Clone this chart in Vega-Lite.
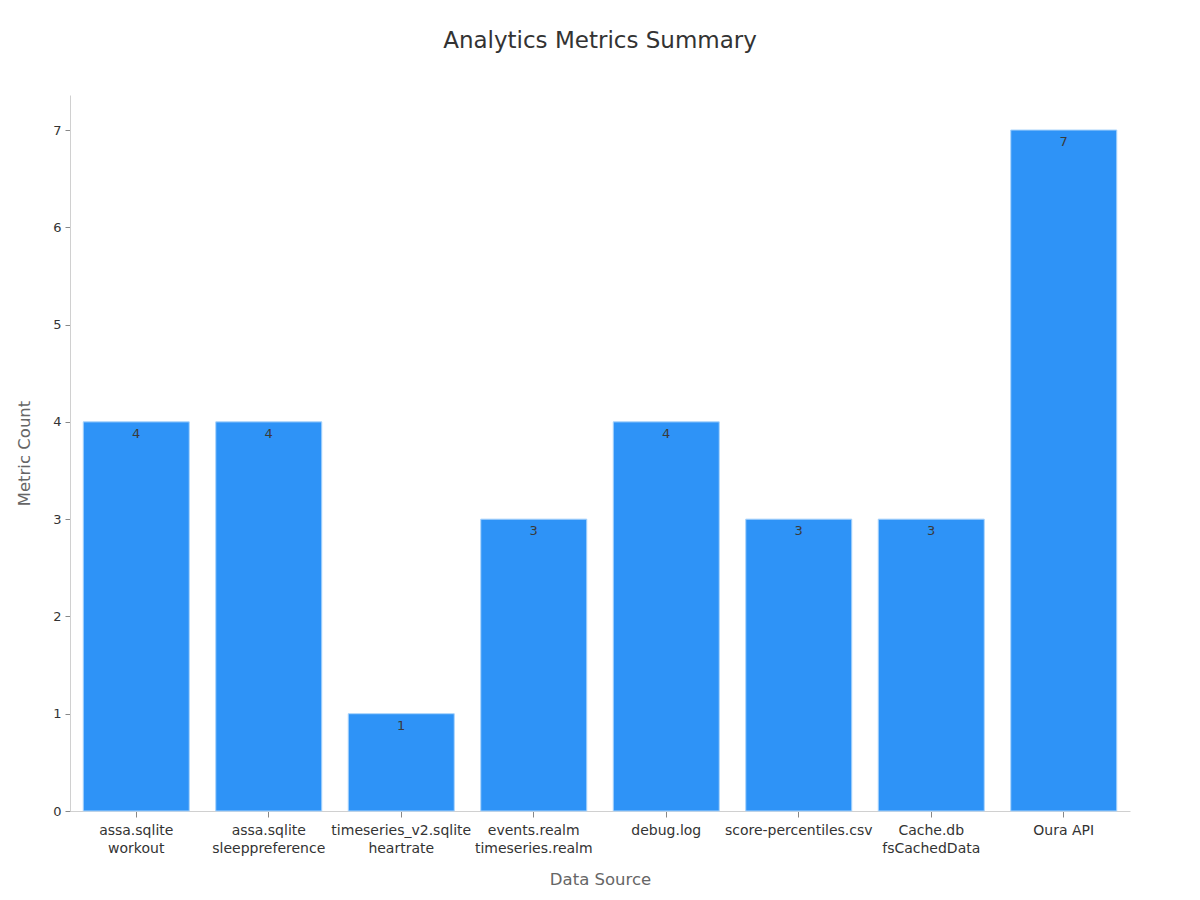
{
  "$schema": "https://vega.github.io/schema/vega-lite/v6.json",
  "width": 1060,
  "height": 716,
  "autosize": {"type": "none"},
  "padding": {"left": 70, "top": 95, "right": 70, "bottom": 89},
  "background": "#ffffff",
  "config": {
    "font": "DejaVu Sans",
    "view": {"stroke": null},
    "axis": {"grid": false, "domainColor": "#d0d0d0", "tickColor": "#888888", "labelColor": "#333333", "labelFontSize": 13, "titleColor": "#666666", "titleFontSize": 16.5, "titleFontWeight": "normal"}
  },
  "title": {"text": "Analytics Metrics Summary", "fontSize": 23, "fontWeight": "normal", "color": "#333333", "offset": 42},
  "data": {
    "values": [
      {"source": "assa.sqlite\nworkout", "count": 4},
      {"source": "assa.sqlite\nsleeppreference", "count": 4},
      {"source": "timeseries_v2.sqlite\nheartrate", "count": 1},
      {"source": "events.realm\ntimeseries.realm", "count": 3},
      {"source": "debug.log", "count": 4},
      {"source": "score-percentiles.csv", "count": 3},
      {"source": "Cache.db\nfsCachedData", "count": 3},
      {"source": "Oura API", "count": 7}
    ]
  },
  "encoding": {
    "x": {
      "field": "source", "type": "nominal", "sort": null,
      "scale": {"paddingInner": 0.2, "paddingOuter": 0.1},
      "axis": {"title": "Data Source", "labelAngle": 0, "labelFontSize": 14, "labelExpr": "split(datum.label, '\\n')", "labelLineHeight": 18, "labelPadding": 6, "titlePadding": 16, "tickSize": 6, "labelLimit": 200}
    },
    "y": {
      "field": "count", "type": "quantitative",
      "scale": {"domain": [0, 7.36], "nice": false},
      "axis": {"title": "Metric Count", "values": [0,1,2,3,4,5,6,7], "tickSize": 5, "labelPadding": 4, "titlePadding": 20}
    }
  },
  "layer": [
    {"mark": {"type": "bar", "color": "#2e93f7", "stroke": "#a9d3fb", "strokeWidth": 1}},
    {"mark": {"type": "text", "baseline": "top", "dy": 6, "fontSize": 13, "color": "#3a3a3a"}, "encoding": {"text": {"field": "count", "type": "quantitative"}}}
  ]
}
